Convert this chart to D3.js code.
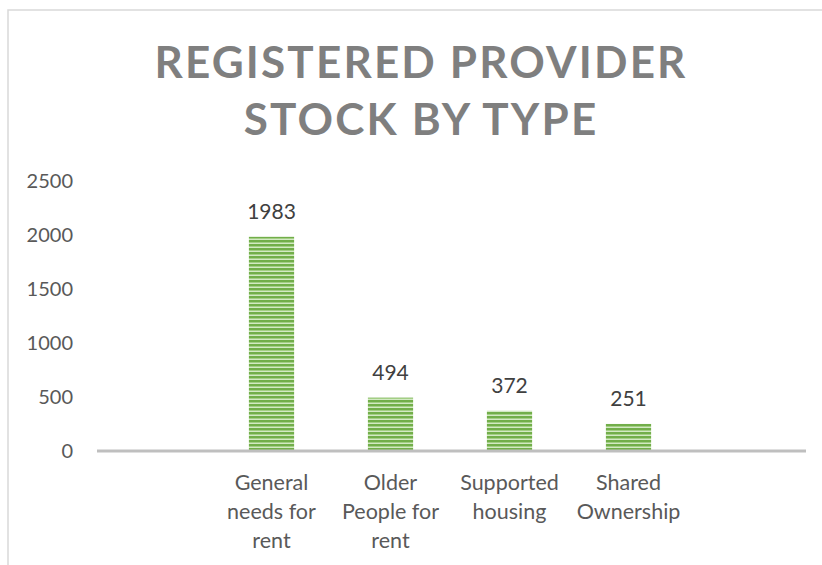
<!DOCTYPE html>
<html>
<head>
<meta charset="utf-8">
<script src="https://cdn.jsdelivr.net/npm/d3@7"></script>
<style>
  html, body { margin: 0; padding: 0; background: #fff; }
  svg { display: block; font-family: Lato, "Open Sans", sans-serif; }
</style>
</head>
<body>
<div id="chart"></div>
<script>
const TITLE_LINES = ["REGISTERED PROVIDER", "STOCK BY TYPE"];
const categories = ["General needs for rent", "Older People for rent", "Supported housing", "Shared Ownership"];
const values = [1983, 494, 372, 251];
const yTicks = [0, 500, 1000, 1500, 2000, 2500];

const WIDTH = 822;
const HEIGHT = 565;
const AXIS_LEFT = 97;
const AXIS_RIGHT = 806;
const TEXT_COLOR = "#595959";
const WRAP_WIDTH = 110;

const svg = d3.select("#chart")
  .append("svg")
  .attr("width", WIDTH)
  .attr("height", HEIGHT);

// striped fill like the excel pattern
const defs = svg.append("defs");
const pattern = defs.append("pattern")
  .attr("id", "stripes")
  .attr("patternUnits", "userSpaceOnUse")
  .attr("width", 8)
  .attr("height", 4);
pattern.append("rect").attr("width", 8).attr("height", 4).attr("fill", "#d3e9c4");
pattern.append("rect").attr("width", 8).attr("height", 2).attr("fill", "#72ae4a");
pattern.append("rect").attr("y", 2).attr("width", 8).attr("height", 1).attr("fill", "#a3cf84");

// chart frame (only top and left edges visible)
svg.append("path")
  .attr("d", `M8,${HEIGHT} L8,10 L${WIDTH},10`)
  .attr("fill", "none")
  .attr("stroke", "#d9d9d9")
  .attr("stroke-width", 1.5);

// title
const title = svg.append("text")
  .attr("fill", "#7f7f7f")
  .attr("font-weight", "bold")
  .attr("font-size", "44px")
  .attr("text-anchor", "middle");
title.selectAll("tspan")
  .data(TITLE_LINES)
  .join("tspan")
  .attr("x", 421)
  .attr("y", (d, i) => 78 + i * 57)
  .text(d => d);
// spread letters so the first line spans the same width as the reference
const firstLine = title.select("tspan").node();
const rawW = firstLine.getComputedTextLength();
const spacing = Math.max(0, (531 - rawW) / (TITLE_LINES[0].length - 1));
title.attr("letter-spacing", spacing + "px");

const x = d3.scaleBand()
  .domain(categories)
  .range([212, 688])
  .paddingInner(0.62)
  .paddingOuter(0.31);

const y = d3.scaleLinear()
  .domain([0, 2500])
  .range([451, 181]);

// y tick labels, no axis line
const yAxis = svg.append("g")
  .attr("transform", "translate(73,0)")
  .call(d3.axisLeft(y).tickValues(yTicks).tickFormat(d3.format("d")).tickSize(0).tickPadding(0));
yAxis.select(".domain").remove();
yAxis.selectAll("text")
  .attr("fill", TEXT_COLOR)
  .attr("font-size", "20px")
  .attr("font-family", "Lato, sans-serif");

// bars
svg.append("g")
  .selectAll("rect")
  .data(values)
  .join("rect")
  .attr("x", (d, i) => x(categories[i]))
  .attr("y", d => y(d))
  .attr("width", x.bandwidth())
  .attr("height", d => y(0) - y(d))
  .attr("fill", "url(#stripes)");

// value labels
svg.append("g")
  .selectAll("text")
  .data(values)
  .join("text")
  .attr("x", (d, i) => x(categories[i]) + x.bandwidth() / 2)
  .attr("y", d => y(d) - 17.5)
  .attr("text-anchor", "middle")
  .attr("fill", "#404040")
  .attr("font-size", "21px")
  .text(d => d);

// category axis line
svg.append("line")
  .attr("x1", AXIS_LEFT)
  .attr("x2", AXIS_RIGHT)
  .attr("y1", y(0))
  .attr("y2", y(0))
  .attr("stroke", "#bfbfbf")
  .attr("stroke-width", 3);

// category labels, word wrapped
const catLabels = svg.append("g")
  .selectAll("text")
  .data(categories)
  .join("text")
  .attr("text-anchor", "middle")
  .attr("fill", TEXT_COLOR)
  .attr("font-size", "21.5px");

catLabels.each(function (d) {
  const el = d3.select(this);
  const cx = x(d) + x.bandwidth() / 2;
  const words = d.split(" ");
  const lines = [];
  let line = [];
  const probe = el.append("tspan");
  words.forEach(w => {
    const test = line.concat(w).join(" ");
    probe.text(test);
    if (probe.node().getComputedTextLength() > WRAP_WIDTH && line.length) {
      lines.push(line.join(" "));
      line = [w];
    } else {
      line.push(w);
    }
  });
  lines.push(line.join(" "));
  probe.remove();
  el.selectAll("tspan")
    .data(lines)
    .join("tspan")
    .attr("x", cx)
    .attr("y", (l, i) => 490 + i * 29)
    .text(l => l);
});
</script>
</body>
</html>
